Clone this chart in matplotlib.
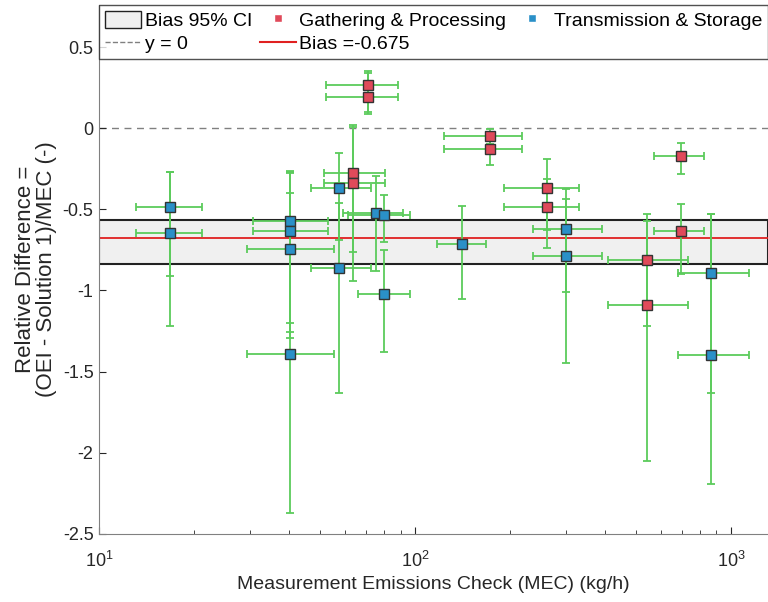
import numpy as np
import matplotlib
matplotlib.use('Agg')
import matplotlib.pyplot as plt
from matplotlib.patches import Patch
from matplotlib.lines import Line2D

plt.rcParams['font.family'] = ['Liberation Sans', 'DejaVu Sans']
plt.rcParams['mathtext.fontset'] = 'custom'
plt.rcParams['mathtext.rm'] = 'Liberation Sans'
plt.rcParams['mathtext.it'] = 'Liberation Sans:italic'
plt.rcParams['mathtext.bf'] = 'Liberation Sans:bold'

# Gathering & Processing (red)
gp_x = [63.5, 63.5, 71.1, 71.1, 173.1, 173.1, 261.0, 261.0, 542.2, 542.2, 693.0, 693.0]
gp_y = [-0.274, -0.338, 0.265, 0.190, -0.047, -0.130, -0.370, -0.486, -0.815, -1.088, -0.169, -0.636]
gp_xlo = [51.7, 51.7, 52.2, 52.2, 123.8, 123.8, 190.9, 190.9, 407.3, 407.3, 569.3, 569.3]
gp_xhi = [80.4, 80.4, 88.1, 88.1, 217.6, 217.6, 331.1, 331.1, 729.4, 729.4, 819.6, 819.6]
gp_ylo = [-0.765, -0.942, 0.100, 0.086, -0.100, -0.224, -0.630, -0.739, -1.216, -2.049, -0.284, -0.901]
gp_yhi = [0.019, 0.005, 0.354, 0.340, -0.006, -0.030, -0.187, -0.311, -0.527, -0.572, -0.094, -0.465]

# Transmission & Storage (blue)
ts_x = [16.8, 16.8, 40.3, 40.3, 40.3, 40.3, 57.3, 57.3, 75.3, 79.6, 79.6, 140.8, 301.2, 301.2, 864.5, 864.5]
ts_y = [-0.486, -0.646, -0.574, -0.632, -0.745, -1.391, -0.366, -0.862, -0.523, -0.535, -1.021, -0.712,
        -0.623, -0.786, -0.893, -1.395]
ts_xlo = [13.1, 13.1, 30.6, 30.6, 29.3, 29.3, 46.9, 46.9, 59.0, 61.2, 65.9, 117.4, 236.3, 236.3, 678.0, 678.0]
ts_xhi = [21.1, 21.1, 53.0, 53.0, 55.6, 55.6, 72.7, 72.7, 91.4, 96.4, 96.4, 167.8, 390.6, 390.6, 1143.0, 1143.0]
ts_ylo = [-0.910, -1.220, -1.198, -1.253, -1.290, -2.370, -0.687, -1.634, -0.877, -0.704, -1.381, -1.054,
          -1.012, -1.446, -1.634, -2.193]
ts_yhi = [-0.270, -0.270, -0.265, -0.278, -0.401, -0.270, -0.156, -0.461, -0.296, -0.410, -0.753, -0.480,
          -0.372, -0.438, -0.527, -0.530]

bias = -0.675
ci_lo, ci_hi = -0.838, -0.564

red = '#E04A5A'
blue = '#2A90C8'
green = '#5CCB5C'
txt = '#262626'

fig = plt.figure(figsize=(7.68, 6.02), dpi=100)
ax = fig.add_axes([0.129, 0.113, 0.871, 0.879])
ax.set_xscale('log')

ax.axhspan(ci_lo, ci_hi, facecolor='#F0F0F0', edgecolor='#222222', lw=1.5, zorder=1)
ax.axhline(0, color='#808080', ls=(0, (5, 4)), lw=1, zorder=1)
ax.axhline(bias, color='#E02020', lw=1.3, zorder=2)


def draw(x, y, xlo, xhi, ylo, yhi, col):
    x = np.array(x); y = np.array(y)
    xerr = [x - np.array(xlo), np.array(xhi) - x]
    yerr = [y - np.array(ylo), np.array(yhi) - y]
    ax.errorbar(x, y, xerr=xerr, yerr=yerr, fmt='none', ecolor=green, elinewidth=1.3,
                capsize=3, capthick=1.3, zorder=3)
    ax.plot(x, y, 's', ms=6.5, mfc=col, mec='#333333', mew=1, ls='none', zorder=4)


draw(gp_x, gp_y, gp_xlo, gp_xhi, gp_ylo, gp_yhi, red)
draw(ts_x, ts_y, ts_xlo, ts_xhi, ts_ylo, ts_yhi, blue)

ax.set_xlim(10, 1310)
ax.set_ylim(-2.5, 0.76)
ax.set_yticks([-2.5, -2, -1.5, -1, -0.5, 0, 0.5])
ax.set_yticklabels(['-2.5', '-2', '-1.5', '-1', '-0.5', '0', '0.5'])
ax.tick_params(direction='in', which='both', labelsize=13, colors=txt)
ax.tick_params(which='major', length=5)
ax.tick_params(which='minor', length=3)
ax.tick_params(axis='x', which='major', pad=12)
ax.tick_params(axis='y', which='major', pad=4)
for s in ax.spines.values():
    s.set_color('#808080')
ax.spines['top'].set_visible(False)
ax.spines['right'].set_visible(False)

ax.set_xlabel('Measurement Emissions Check (MEC) (kg/h)', fontsize=14, color=txt, labelpad=4)
ax.set_ylabel('Relative Difference =\n(OEI - Solution 1)/MEC (-)', fontsize=16, color=txt,
              labelpad=4, linespacing=1.0)

handles = [Patch(facecolor='#F0F0F0', edgecolor='#222222', lw=1),
           Line2D([], [], color='#808080', ls='--', lw=1),
           Line2D([], [], marker='s', ms=6, mfc=red, mec='white', ls='none'),
           Line2D([], [], color='#E02020', lw=1.5),
           Line2D([], [], marker='s', ms=6, mfc=blue, mec='white', ls='none')]
labels = ['Bias 95% CI', 'y = 0', 'Gathering & Processing', 'Bias =-0.675', 'Transmission & Storage']
leg = ax.legend(handles, labels, ncol=3, loc='upper left', bbox_to_anchor=(0, 1, 1, 0),
                mode='expand', borderaxespad=0, fontsize=14, frameon=True, fancybox=False,
                handlelength=1.85, handleheight=1.0, handletextpad=0.2, columnspacing=0.6,
                labelspacing=0.2, borderpad=0.3)
leg.get_frame().set_edgecolor(txt)
leg.get_frame().set_linewidth(1)

fig.savefig('out.png', dpi=100)
